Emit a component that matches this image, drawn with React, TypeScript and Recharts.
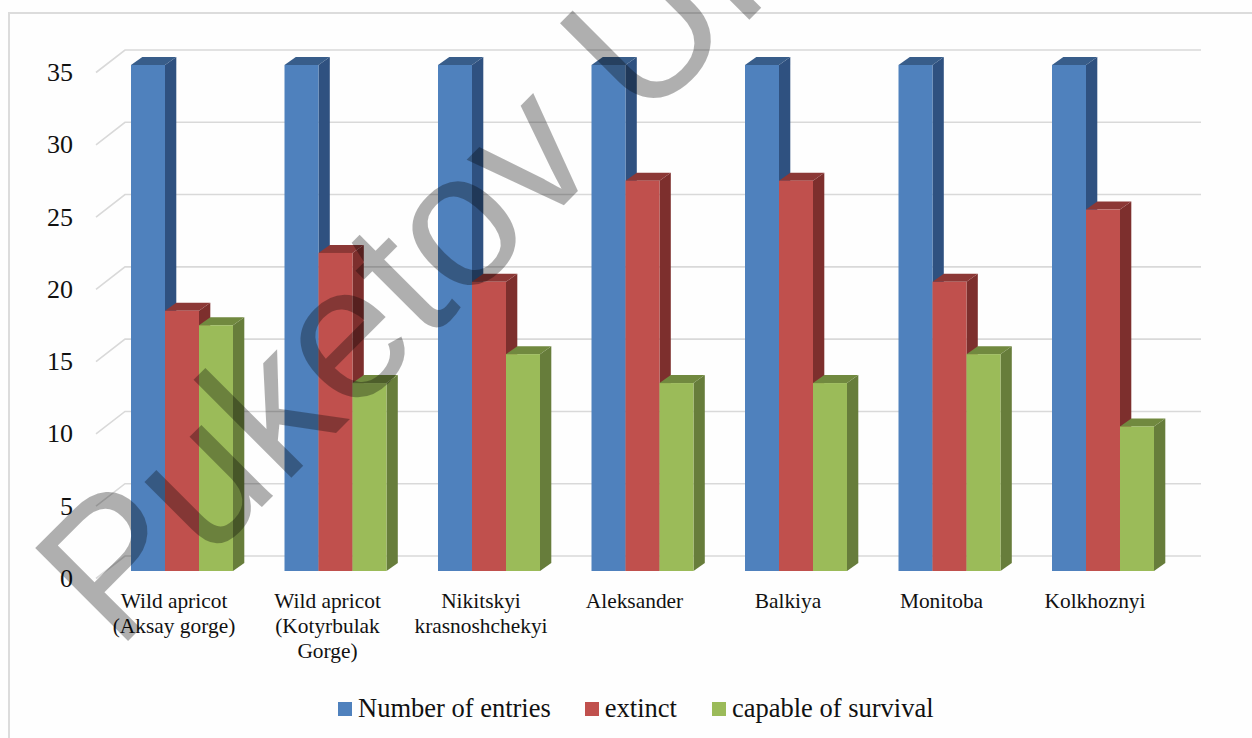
import { BarChart, Bar, XAxis, YAxis, CartesianGrid, Legend } from "recharts";

const categories = [
  "Wild apricot|(Aksay gorge)",
  "Wild apricot|(Kotyrbulak|Gorge)",
  "Nikitskyi|krasnoshchekyi",
  "Aleksander",
  "Balkiya",
  "Monitoba",
  "Kolkhoznyi",
];
const seriesNames = ["Number of entries", "extinct", "capable of survival"];
const entries = [35, 35, 35, 35, 35, 35, 35];
const extinct = [18, 22, 20, 27, 27, 20, 25];
const survival = [17, 13, 15, 13, 13, 15, 10];
const yTicks = [0, 5, 10, 15, 20, 25, 30, 35];

const data = categories.map((name, i) => ({
  name,
  entries: entries[i],
  extinct: extinct[i],
  survival: survival[i],
}));

const SERIF = "'Liberation Serif', 'Times New Roman', serif";
const DEPTH_X = 11.3;
const DEPTH_Y = 8;

function bar3d(front: string, top: string, side: string) {
  return (props: any) => {
    const { x, y, width, height } = props;
    return (
      <g>
        <path
          d={`M${x + width},${y} l${DEPTH_X},${-DEPTH_Y} v${height} l${-DEPTH_X},${DEPTH_Y} z`}
          fill={side}
        />
        <path
          d={`M${x},${y} l${DEPTH_X},${-DEPTH_Y} h${width} l${-DEPTH_X},${DEPTH_Y} z`}
          fill={top}
        />
        <rect x={x} y={y} width={width} height={height} fill={front} />
      </g>
    );
  };
}

function GridLine(props: any) {
  const { y1 } = props;
  return (
    <path
      d={`M96,${y1 + 7.5} L125,${y1 - 15} H1201`}
      fill="none"
      stroke="#d9d9d9"
      strokeWidth={1.6}
    />
  );
}

function CategoryTick({ x, y, payload }: any) {
  const lines: string[] = payload.value.split("|");
  return (
    <text x={x - 8} y={y} textAnchor="middle" fontFamily={SERIF} fontSize={21.4} fill="#111">
      {lines.map((line, i) => (
        <tspan key={line} x={x - 8} y={y + 29 + i * 25}>
          {line}
        </tspan>
      ))}
    </text>
  );
}

function ValueTick({ y, payload }: any) {
  return (
    <text x={73} y={y + 16} textAnchor="end" fontFamily={SERIF} fontSize={26} fill="#111">
      {payload.value}
    </text>
  );
}

function LegendContent({ payload }: any) {
  const gaps = [34, 35, 0];
  const ordered = [...payload].sort(
    (a: any, b: any) => seriesNames.indexOf(a.value) - seriesNames.indexOf(b.value)
  );
  return (
    <div style={{ display: "flex", alignItems: "center", fontFamily: SERIF, fontSize: 26.5, color: "#111" }}>
      {ordered.map((p: any, i: number) => (
        <div key={p.value} style={{ display: "flex", alignItems: "center", marginRight: gaps[i] }}>
          <span style={{ width: 14, height: 14, background: p.color, marginRight: 6, display: "inline-block" }} />
          {p.value}
        </div>
      ))}
    </div>
  );
}

export default function App() {
  return (
    <div style={{ position: "fixed", left: 0, top: 0, width: 1252, height: 738, background: "#fefefe", overflow: "hidden" }}>
      <div
        style={{
          position: "absolute",
          left: 8,
          top: 12,
          width: 1300,
          height: 800,
          border: "2px solid #dcdcdc",
          boxSizing: "border-box",
        }}
      />
      <BarChart
        width={1252}
        height={738}
        data={data}
        margin={{ left: 75.25, right: 72.25, top: 65, bottom: 106 }}
        barCategoryGap={25.75}
        barGap={0}
        style={{ position: "absolute", left: 0, top: 0 }}
      >
        <CartesianGrid vertical={false} horizontal={(p: any) => <GridLine key={p.key} {...p} />} />
        <XAxis dataKey="name" axisLine={false} tickLine={false} interval={0} tick={<CategoryTick />} />
        <YAxis
          width={30}
          domain={[0, 35]}
          ticks={yTicks}
          axisLine={false}
          tickLine={false}
          interval={0}
          tick={<ValueTick />}
        />
        <Legend
          content={<LegendContent />}
          wrapperStyle={{ left: 338, top: 693, width: 640, bottom: "auto" }}
        />
        <Bar dataKey="entries" name={seriesNames[0]} fill="#4f81bd" isAnimationActive={false} shape={bar3d("#4f81bd", "#385d8a", "#2f5180")} />
        <Bar dataKey="extinct" name={seriesNames[1]} fill="#c0504d" isAnimationActive={false} shape={bar3d("#c0504d", "#8c3836", "#7d2f2d")} />
        <Bar dataKey="survival" name={seriesNames[2]} fill="#9bbb59" isAnimationActive={false} shape={bar3d("#9bbb59", "#71893f", "#677d3b")} />
      </BarChart>
      <svg width={1252} height={738} style={{ position: "absolute", left: 0, top: 0, pointerEvents: "none" }}>
        <text
          transform="translate(117,652) rotate(-45)"
          fontFamily="'Liberation Sans', Arial, sans-serif"
          fontSize={191}
          fill="#000"
          fillOpacity={0.31}
        >
          Puketov Un
        </text>
      </svg>
    </div>
  );
}
